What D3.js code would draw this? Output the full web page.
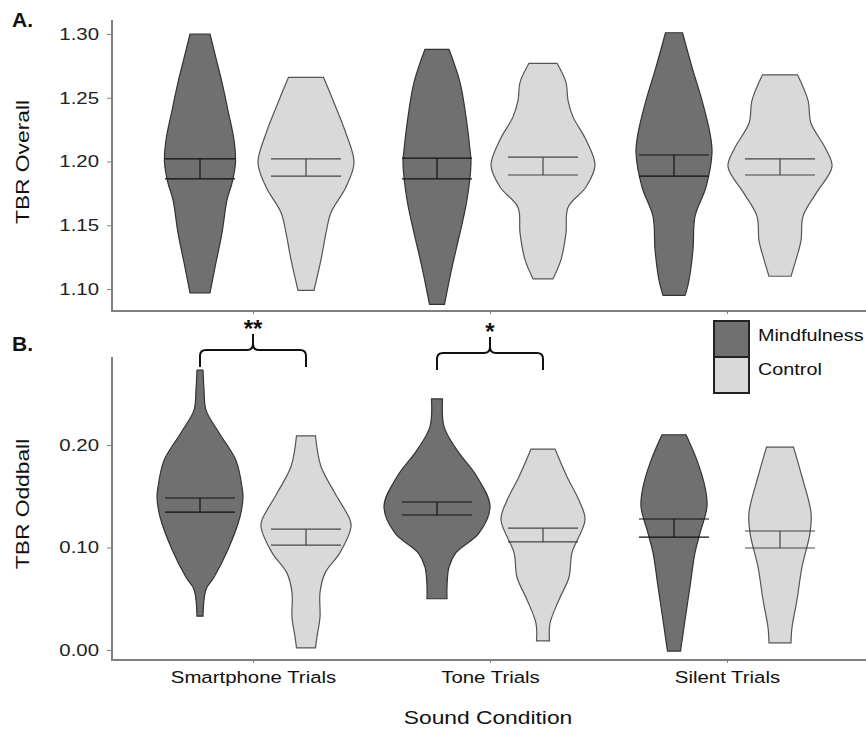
<!DOCTYPE html>
<html>
<head>
<meta charset="utf-8">
<script src="https://cdn.jsdelivr.net/npm/d3@7"></script>
<style>
  body { margin: 0; background: #fff; }
  svg { font-family: "Liberation Sans", Arial, sans-serif; }
</style>
</head>
<body>
<svg width="866" height="729"></svg>
<script>
// categories and groups
var categories = ["Smartphone Trials", "Tone Trials", "Silent Trials"];
var groups = ["Mindfulness", "Control"];

// tick labels
var overallTicks = [1.10, 1.15, 1.20, 1.25, 1.30];
var oddballTicks = [0.00, 0.10, 0.20];

// violin outlines: [value, relative density]
var overallSmartMind = [[1.300,0.20],[1.281,0.32],[1.262,0.44],[1.240,0.56],[1.217,0.68],[1.199,0.71],[1.183,0.64],[1.170,0.54],[1.144,0.44],[1.117,0.30],[1.097,0.20]];
var overallSmartCtrl = [[1.266,0.35],[1.248,0.54],[1.222,0.80],[1.199,0.96],[1.180,0.80],[1.160,0.50],[1.144,0.40],[1.123,0.30],[1.099,0.16]];
var overallToneMind  = [[1.288,0.24],[1.262,0.46],[1.235,0.58],[1.209,0.66],[1.199,0.68],[1.170,0.60],[1.144,0.46],[1.117,0.30],[1.088,0.15]];
var overallToneCtrl  = [[1.277,0.28],[1.262,0.46],[1.248,0.50],[1.235,0.60],[1.217,0.86],[1.197,1.04],[1.180,0.86],[1.164,0.50],[1.144,0.46],[1.123,0.36],[1.108,0.20]];
var overallSilMind   = [[1.301,0.17],[1.274,0.36],[1.248,0.56],[1.222,0.72],[1.207,0.76],[1.180,0.64],[1.157,0.42],[1.131,0.38],[1.107,0.30],[1.095,0.22]];
var overallSilCtrl   = [[1.268,0.35],[1.248,0.56],[1.230,0.62],[1.211,0.90],[1.196,1.04],[1.175,0.72],[1.157,0.46],[1.138,0.42],[1.123,0.32],[1.110,0.22]];

var oddSmartMind = [[0.273,0.06],[0.254,0.08],[0.234,0.12],[0.212,0.38],[0.185,0.72],[0.159,0.84],[0.149,0.86],[0.130,0.80],[0.098,0.56],[0.071,0.28],[0.059,0.12],[0.033,0.06]];
var oddSmartCtrl = [[0.209,0.19],[0.179,0.30],[0.153,0.58],[0.127,0.88],[0.120,0.90],[0.095,0.68],[0.075,0.38],[0.056,0.28],[0.032,0.28],[0.013,0.22],[0.002,0.19]];
var oddToneMind  = [[0.245,0.11],[0.218,0.14],[0.195,0.40],[0.169,0.80],[0.140,1.06],[0.114,0.84],[0.095,0.38],[0.081,0.24],[0.062,0.20],[0.050,0.20]];
var oddToneCtrl  = [[0.196,0.24],[0.169,0.48],[0.146,0.72],[0.127,0.84],[0.095,0.58],[0.071,0.52],[0.049,0.32],[0.026,0.14],[0.009,0.13]];
var oddSilMind   = [[0.210,0.24],[0.185,0.46],[0.159,0.62],[0.140,0.66],[0.114,0.52],[0.095,0.42],[0.062,0.32],[0.029,0.22],[-0.001,0.13]];
var oddSilCtrl   = [[0.198,0.27],[0.169,0.44],[0.134,0.62],[0.114,0.60],[0.081,0.44],[0.049,0.34],[0.022,0.24],[0.007,0.22]];

// mean confidence bands [lower, upper]
var overallCI = [[1.1863,1.2020],[1.1886,1.2020],[1.1863,1.2027],[1.1894,1.2035],[1.1886,1.2051],[1.1894,1.2020]];
var oddballCI = [[0.1346,0.1483],[0.1024,0.1180],[0.1317,0.1444],[0.1054,0.1190],[0.1102,0.1278],[0.0995,0.1161]];

var overallShapes = [overallSmartMind, overallSmartCtrl, overallToneMind, overallToneCtrl, overallSilMind, overallSilCtrl];
var oddballShapes = [oddSmartMind, oddSmartCtrl, oddToneMind, oddToneCtrl, oddSilMind, oddSilCtrl];

// significance marks (bottom panel)
var sigCats = ["Smartphone Trials", "Tone Trials"];
var sigLabels = ["**", "*"];

var svg = d3.select("svg");
var fills = {Mindfulness: "#707070", Control: "#d9d9d9"};
var strokes = {Mindfulness: "#333", Control: "#555"};
var K = 1.2; // horizontal stretch of the figure's lettering

var x = d3.scalePoint().domain(categories).range([253, 727]);
var xg = d3.scalePoint().domain(groups).range([-53, 53]);
var w = d3.scaleLinear().domain([0, 1]).range([0, 50]);

var yTop = d3.scaleLinear().domain([1.10, 1.30]).range([289, 34]);
var yBot = d3.scaleLinear().domain([0.00, 0.20]).range([650, 445]);

// widen text glyphs along their baseline
function wide(sel) {
    sel.each(function () {
        var t = d3.select(this);
        var xx = +t.attr("x") || 0;
        t.attr("x", xx / K).attr("transform", (t.attr("transform") || "") + " scale(" + K + ",1)");
    });
}

function violins(data, ci) {
    var rows = [];
    categories.forEach(function (c, i) {
        groups.forEach(function (g, j) {
            rows.push({cat: c, group: g, pts: data[i * 2 + j], ci: ci[i * 2 + j]});
        });
    });
    return rows;
}

function drawPanel(opts) {
    var y = opts.y;
    var g = svg.append("g");

    // frame: left axis + bottom axis
    g.append("line").attr("x1", 112).attr("x2", 112).attr("y1", opts.top).attr("y2", opts.bottom)
        .attr("stroke", "#808080").attr("stroke-width", 2);
    g.append("line").attr("x1", 111).attr("x2", 866).attr("y1", opts.bottom).attr("y2", opts.bottom)
        .attr("stroke", "#808080").attr("stroke-width", 2);

    var ya = g.append("g")
        .attr("transform", "translate(112,0)")
        .call(d3.axisLeft(y).tickValues(opts.ticks).tickFormat(d3.format(".2f")).tickSize(5).tickPadding(8));
    ya.select(".domain").remove();
    ya.selectAll(".tick line").attr("stroke", "#808080");
    ya.selectAll("text").attr("font-size", 17).attr("fill", "#222").call(wide);

    var xa = g.append("g")
        .attr("transform", "translate(0," + opts.bottom + ")")
        .call(d3.axisBottom(x).tickSize(3).tickPadding(8));
    xa.select(".domain").remove();
    xa.selectAll(".tick line").attr("stroke", "#808080");
    if (opts.labels) {
        xa.selectAll("text").attr("font-size", 17).attr("fill", "#111").call(wide);
    } else {
        xa.selectAll("text").remove();
    }

    var area = d3.area()
        .curve(d3.curveCatmullRom.alpha(0.5))
        .y(function (d) { return y(d[0]); });

    violins(opts.shapes, opts.ci).forEach(function (v) {
        var cx = x(v.cat) + xg(v.group);
        area.x0(function (d) { return cx - w(d[1]); })
            .x1(function (d) { return cx + w(d[1]); });
        g.append("path")
            .datum(v.pts)
            .attr("d", area)
            .attr("fill", fills[v.group])
            .attr("stroke", strokes[v.group])
            .attr("stroke-width", 1.2);

        var hw = w(0.7);
        var lineColor = v.group === "Mindfulness" ? "#111" : "#444";
        [v.ci[0], v.ci[1]].forEach(function (val) {
            g.append("line")
                .attr("x1", cx - hw).attr("x2", cx + hw)
                .attr("y1", y(val)).attr("y2", y(val))
                .attr("stroke", lineColor).attr("stroke-width", 1.2);
        });
        g.append("line")
            .attr("x1", cx).attr("x2", cx)
            .attr("y1", y(v.ci[0])).attr("y2", y(v.ci[1]))
            .attr("stroke", lineColor).attr("stroke-width", 1.2);
    });

    // panel letter
    svg.append("text").attr("x", 12).attr("y", opts.letterY)
        .attr("font-size", 21).attr("font-weight", "bold").attr("fill", "#111")
        .text(opts.letter);

    // y title
    svg.append("text")
        .attr("transform", "translate(29," + opts.titleY + ") rotate(-90)")
        .attr("text-anchor", "middle")
        .attr("font-size", 19).attr("fill", "#111")
        .text(opts.title)
        .call(wide);
}

drawPanel({
    y: yTop, top: 20, bottom: 311, ticks: overallTicks, shapes: overallShapes, ci: overallCI,
    labels: false, letter: "A.", letterY: 27, title: "TBR Overall", titleY: 162
});
drawPanel({
    y: yBot, top: 357, bottom: 660, ticks: oddballTicks, shapes: oddballShapes, ci: oddballCI,
    labels: true, letter: "B.", letterY: 351, title: "TBR Oddball", titleY: 504
});

// x title
svg.append("text")
    .attr("x", 488).attr("y", 724)
    .attr("text-anchor", "middle")
    .attr("font-size", 19).attr("fill", "#111")
    .text("Sound Condition")
    .call(wide);

// significance brackets
sigCats.forEach(function (c, i) {
    var x0 = x(c) + xg("Mindfulness"), x1 = x(c) + xg("Control"), xm = x(c);
    var yl = 350 + i * 3, r = 6;
    var yEnd = yl + 17, yPeak = yl - 16;
    var p = d3.path();
    p.moveTo(x0, yEnd);
    p.lineTo(x0, yl + r);
    p.quadraticCurveTo(x0, yl, x0 + r, yl);
    p.lineTo(xm - r, yl);
    p.quadraticCurveTo(xm, yl, xm, yl - r);
    p.lineTo(xm, yPeak);
    p.moveTo(xm, yl - r);
    p.quadraticCurveTo(xm, yl, xm + r, yl);
    p.lineTo(x1 - r, yl);
    p.quadraticCurveTo(x1, yl, x1, yl + r);
    p.lineTo(x1, yEnd);
    svg.append("path").attr("d", p.toString())
        .attr("fill", "none").attr("stroke", "#111").attr("stroke-width", 2);
    svg.append("text")
        .attr("x", xm).attr("y", yPeak + 3)
        .attr("text-anchor", "middle")
        .attr("font-size", 24).attr("font-weight", "bold").attr("fill", "#111")
        .text(sigLabels[i]);
});

// legend
var legend = svg.append("g").attr("transform", "translate(714,321)");
groups.forEach(function (gname, i) {
    legend.append("rect")
        .attr("x", 0).attr("y", i * 36).attr("width", 35).attr("height", 36)
        .attr("fill", fills[gname]).attr("stroke", "#222").attr("stroke-width", 2);
    legend.append("text")
        .attr("x", 44).attr("y", i * 34 + 20)
        .attr("font-size", 16.5).attr("fill", "#111")
        .text(gname)
        .call(wide);
});
</script>
</body>
</html>
